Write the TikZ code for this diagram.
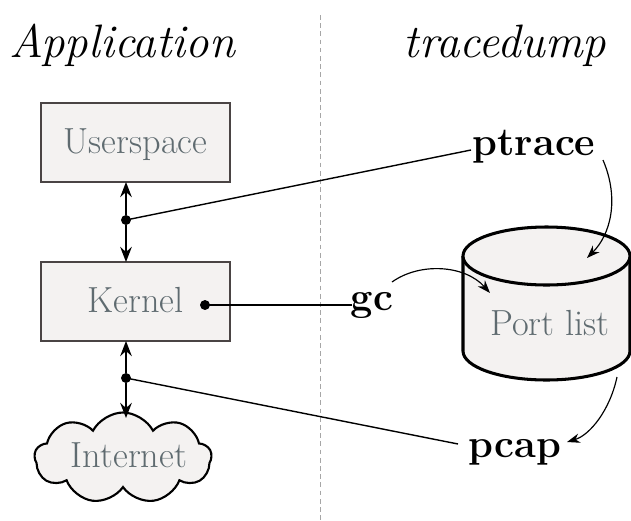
\documentclass[tikz,border=0pt]{standalone}
\usepackage{fontspec}
\usetikzlibrary{arrows.meta,shapes.symbols}
\definecolor{boxfill}{HTML}{F4F2F1}
\definecolor{boxtext}{HTML}{5F6B70}
\definecolor{boxline}{HTML}{4A4444}
\begin{document}
\begin{tikzpicture}[x=0.03cm,y=-0.03cm,
  title/.style={font=\fontsize{40}{46}\selectfont\itshape,anchor=base},
  boxnode/.style={draw=boxline,line width=0.9pt,fill=boxfill,
    minimum width=189*0.03cm,minimum height=79*0.03cm,inner sep=0pt},
  btext/.style={text=boxtext,font=\fontsize{31}{36}\selectfont,anchor=base,inner sep=0pt},
  lbl/.style={font=\fontsize{34}{40}\selectfont\bfseries,anchor=base,inner sep=2pt},
  dotnode/.style={circle,fill=black,inner sep=0pt,minimum size=8.5pt},
  conn/.style={line width=1.2pt},
  tip/.style={-{Stealth[length=13pt,width=10pt,inset=4.5pt]}},
  ctip/.style={-{Stealth[length=11pt,width=8pt,inset=3.5pt]},line width=1pt}
]
\useasboundingbox (0,0) rectangle (631,520);
% divider
\draw[gray!70,line width=0.7pt,dash pattern=on 4pt off 3pt] (320,15) -- (320,520);
% titles
\node[title] (tapp) at (122,57) {Application};
\node[title] (ttd) at (505,57) {tracedump};
% boxes
\node[boxnode] (us) at (135.5,142.5) {};
\node[btext] (ust) at (135.5,153) {Userspace};
\node[boxnode] (kern) at (135.5,301.5) {};
\node[btext] (knt) at (135.5,312) {Kernel};
% cloud
\node[cloud,cloud puffs=9,cloud puff arc=125,aspect=2.1,draw=black,line width=1.8pt,
  fill=boxfill,minimum width=177*0.03cm,minimum height=91*0.03cm,
  inner sep=0pt] (net) at (123,458) {};
\node[btext] (nett) at (129,467) {Internet};
% cylinder
\filldraw[fill=boxfill,line width=2.6pt] (463,256) -- (463,351)
  arc[start angle=180,end angle=0,x radius=83.5,y radius=29] -- (630,256);
\filldraw[fill=boxfill,line width=2.6pt] (546.5,256) ellipse[x radius=83.5,y radius=29];
\node[btext] (pl) at (550,335) {Port list};
% labels
\node[lbl] (ptrace) at (534,155) {ptrace};
\node[lbl] (gc) at (372,310) {gc};
\node[lbl] (pcap) at (515,457) {pcap};
% dots
\node[dotnode] (d1) at (126,220) {};
\node[dotnode] (d2) at (205,305) {};
\node[dotnode] (d3) at (126,378) {};
\coordinate (usb) at (126,182);
\coordinate (kt) at (126,262);
\coordinate (kb) at (126,341);
\coordinate (nt) at (126,418);
% vertical arrows
\draw[conn,tip] (d1) -- (usb);
\draw[conn,tip] (d1) -- (kt);
\draw[conn,tip] (d3) -- (kb);
\draw[conn,tip] (d3) -- (nt);
% connectors to labels
\coordinate (pw) at (471,150);
\coordinate (gw) at (352,305);
\coordinate (cw) at (458,444);
\draw[conn] (d1.center) -- (pw);
\draw[conn] (d2.center) -- (gw);
\draw[conn] (d3.center) -- (cw);
% curved arrows
\coordinate (c1) at (587,258);
\coordinate (c2) at (490,293);
\coordinate (c3) at (567,442);
\draw[ctip] (603,160) .. controls (620,200) and (610,235) .. (c1);
\draw[ctip] (392,282) .. controls (420,262) and (465,265) .. (c2);
\draw[ctip] (617,377) .. controls (610,410) and (590,435) .. (c3);
\end{tikzpicture}
\end{document}
